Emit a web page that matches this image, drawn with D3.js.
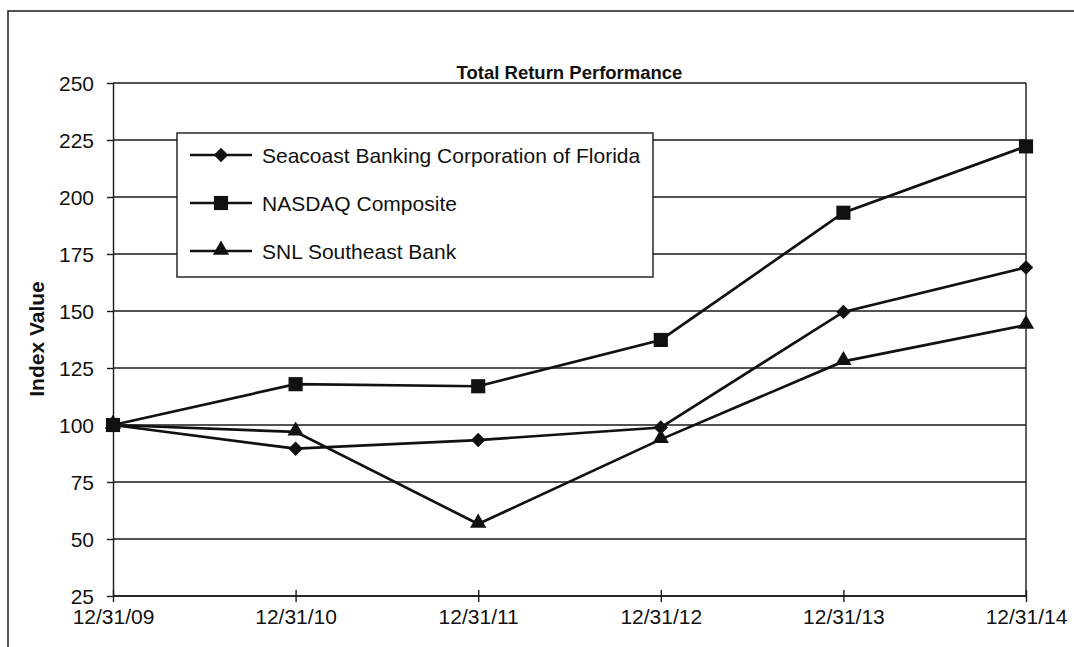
<!DOCTYPE html>
<html>
<head>
<meta charset="utf-8">
<script src="https://cdn.jsdelivr.net/npm/d3@7"></script>
<style>
  body { margin: 0; background: #fff; }
  svg { display: block; font-family: "Liberation Sans", Arial, sans-serif; }
  .grid line { stroke: #1a1a1a; stroke-width: 1.4; }
  .axis path, .axis line { stroke: #1a1a1a; stroke-width: 1.4; }
  .axis text { fill: #111; font-size: 21px; }
  .series { fill: none; stroke: #111; stroke-width: 2.7; }
</style>
</head>
<body>
<svg id="chart" width="1074" height="647"></svg>
<script>
// chart data
const dates = ["12/31/09", "12/31/10", "12/31/11", "12/31/12", "12/31/13", "12/31/14"];
const yTicks = [25, 50, 75, 100, 125, 150, 175, 200, 225, 250];
const seacoast = [100, 89.6, 93.4, 98.9, 149.6, 169.1];
const nasdaq = [100, 117.9, 117.0, 137.3, 193.1, 222.2];
const snl = [100, 97.0, 56.6, 93.7, 127.9, 143.8];
const seriesNames = ["Seacoast Banking Corporation of Florida", "NASDAQ Composite", "SNL Southeast Bank"];

const svg = d3.select("#chart");
const margin = {top: 83, left: 113, right: 48, bottom: 51};
const width = +svg.attr("width");
const height = +svg.attr("height");
const innerWidth = width - margin.left - margin.right;
const innerHeight = height - margin.top - margin.bottom;

// outer frame: only left and top edges fall inside the picture
svg.append("path")
    .attr("d", `M8,${height}V11H${width}`)
    .attr("fill", "none").attr("stroke", "#1a1a1a").attr("stroke-width", 1.5);

const g = svg.append("g")
    .attr("transform", `translate(${margin.left}, ${margin.top})`);

const xScale = d3.scalePoint()
    .domain(dates)
    .range([0, innerWidth]);

const yScale = d3.scaleLinear()
    .domain([25, 250])
    .range([innerHeight, 0]);

// horizontal gridlines
g.append("g")
    .attr("class", "grid")
    .selectAll("line")
    .data(yTicks)
    .join("line")
    .attr("x1", 0).attr("x2", innerWidth)
    .attr("y1", d => yScale(d)).attr("y2", d => yScale(d));

// right border of plot area
g.append("line")
    .attr("x1", innerWidth).attr("x2", innerWidth)
    .attr("y1", 0).attr("y2", innerHeight)
    .attr("stroke", "#1a1a1a").attr("stroke-width", 1.4);

// axes
g.append("g")
    .attr("class", "axis")
    .call(d3.axisLeft(yScale).tickValues(yTicks).tickSize(6).tickPadding(13).tickSizeOuter(0))
    .call(a => a.selectAll("text").attr("dy", "0.36em"));

g.append("g")
    .attr("class", "axis")
    .attr("transform", `translate(0, ${innerHeight})`)
    .call(d3.axisBottom(xScale).tickSizeInner(-6).tickSizeOuter(0).tickPadding(13))
    .call(a => a.selectAll(".tick line").attr("y1", 6))
    .call(a => a.select(".domain").attr("d", `M0,0H${innerWidth}`));

// title and axis label
svg.append("text")
    .attr("x", margin.left + innerWidth / 2)
    .attr("y", 79)
    .attr("text-anchor", "middle")
    .attr("font-size", "18.5px")
    .attr("font-weight", "bold")
    .attr("fill", "#111")
    .text("Total Return Performance");

svg.append("text")
    .attr("transform", "translate(44, 339) rotate(-90)")
    .attr("text-anchor", "middle")
    .attr("font-size", "21px")
    .attr("font-weight", "bold")
    .attr("fill", "#111")
    .text("Index Value");

// marker shapes
const markers = [
    d3.symbol().type(d3.symbolSquare).size(104),
    d3.symbol().type(d3.symbolSquare).size(200),
    d3.symbol().type(d3.symbolTriangle).size(115)
];
const markerTransform = [
    p => `translate(${p[0]}, ${p[1]}) rotate(45)`,
    p => `translate(${p[0]}, ${p[1]})`,
    p => `translate(${p[0]}, ${p[1] - 1})`
];

const allSeries = [seacoast, nasdaq, snl];
const line = d3.line()
    .x((d, i) => xScale(dates[i]))
    .y(d => yScale(d));

allSeries.forEach((values, k) => {
    g.append("path")
        .datum(values)
        .attr("class", "series")
        .attr("d", line);
    g.append("g")
        .selectAll("path")
        .data(values)
        .join("path")
        .attr("d", markers[k])
        .attr("fill", "#111")
        .attr("transform", (d, i) => markerTransform[k]([xScale(dates[i]), yScale(d)]));
});

// legend
const legend = svg.append("g");
legend.append("rect")
    .attr("x", 177).attr("y", 133)
    .attr("width", 476).attr("height", 144)
    .attr("fill", "#fff").attr("stroke", "#1a1a1a").attr("stroke-width", 1.4);

seriesNames.forEach((name, k) => {
    const y = 155 + k * 48;
    legend.append("line")
        .attr("x1", 190).attr("x2", 252)
        .attr("y1", y).attr("y2", y)
        .attr("stroke", "#111").attr("stroke-width", 2.7);
    legend.append("path")
        .attr("d", markers[k])
        .attr("fill", "#111")
        .attr("transform", markerTransform[k]([221, y]));
    legend.append("text")
        .attr("x", 262).attr("y", y + 7.5)
        .attr("font-size", "21px")
        .attr("fill", "#111")
        .text(name);
});
</script>
</body>
</html>
